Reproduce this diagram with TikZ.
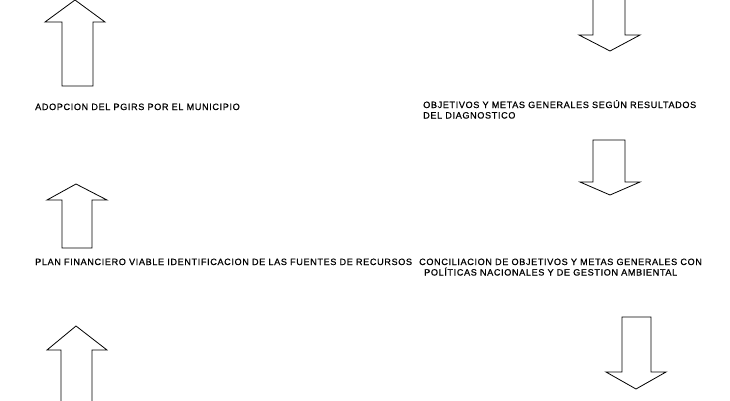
\documentclass[tikz,border=0pt]{standalone}
\usepackage{fontspec}
\setmainfont{Liberation Sans}
\newfontfamily\flujofont[LetterSpace=7,FakeBold=0.8]{Liberation Sans}

\begin{document}
\begin{tikzpicture}[x=1pt,y=-1pt]
        \tikzset{flecha/.style={draw=black, fill=white, line width=0.8pt, line join=miter},
                 etiqueta/.style={anchor=base west, inner sep=0pt, align=left, font=\flujofont\fontsize{9.1}{10.5}\selectfont}}
        \clip (0,0) rectangle (730,400);

        % flechas hacia arriba
        \draw[flecha] (75,0) -- (105,22) -- (93,22) -- (93,86) -- (62,86) -- (62,22) -- (45,22) -- cycle;
        \draw[flecha] (76,184) -- (107,200) -- (92,200) -- (92,248) -- (62,248) -- (62,200) -- (47,200) -- cycle;
        \draw[flecha] (76,326) -- (107,350) -- (92,350) -- (92,410) -- (61,410) -- (61,350) -- (47,350) -- cycle;

        % flechas hacia abajo
        \draw[flecha] (610,51) -- (640,35) -- (625,35) -- (625,-10) -- (593,-10) -- (593,35) -- (579,35) -- cycle;
        \draw[flecha] (610,195) -- (640,182) -- (625,182) -- (625,140) -- (593,140) -- (593,182) -- (580,182) -- cycle;
        \draw[flecha] (636,389) -- (666,372) -- (651,372) -- (651,317) -- (622,317) -- (622,372) -- (606,372) -- cycle;

        % textos (base = ultima linea)
        \node[etiqueta] (adopcion) at (35,110) {ADOPCION DEL PGIRS POR EL MUNICIPIO};
        \node[etiqueta] (objetivos) at (423,118.5) {OBJETIVOS Y METAS GENERALES SEGÚN RESULTADOS\\DEL DIAGNOSTICO};
        \node[etiqueta] (plan) at (35,265) {PLAN FINANCIERO VIABLE IDENTIFICACION DE LAS FUENTES DE RECURSOS};
        \node[etiqueta] (conciliacion) at (419,275.5) {CONCILIACION DE OBJETIVOS Y METAS GENERALES CON\\\hspace{5pt}POLÍTICAS NACIONALES Y DE GESTION AMBIENTAL};
\end{tikzpicture}
\end{document}
